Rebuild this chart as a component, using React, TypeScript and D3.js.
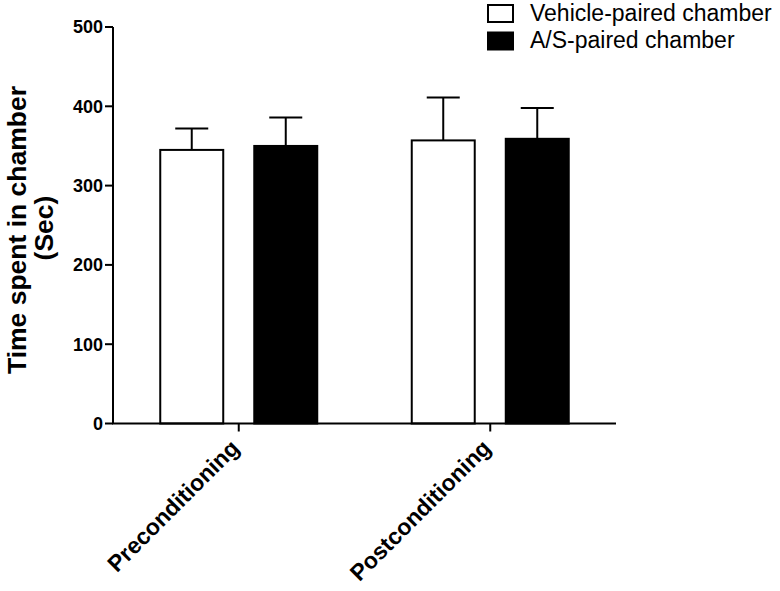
import React from "react";
import * as d3 from "d3";

const categories = ["Preconditioning", "Postconditioning"];
const series = ["Vehicle-paired chamber", "A/S-paired chamber"];
const seriesFill = ["#ffffff", "#000000"];
const meanValues = [
  [345, 350],
  [357, 359],
];
const errorValues = [
  [27, 36],
  [54, 39],
];
const yTicks = [0, 100, 200, 300, 400, 500];

const W = 780;
const H = 591;

export default function App() {
  const x0 = d3.scaleBand<string>().domain(categories).range([113, 616]).paddingInner(0).paddingOuter(0);
  const x1 = d3.scaleBand<string>().domain(series).range([-78.5, 78.5]).paddingInner(0.33).paddingOuter(0);
  const y = d3.scaleLinear().domain([0, 500]).range([423.5, 27]);
  const font = "'Liberation Sans', Arial, Helvetica, sans-serif";
  const capW = 33;

  return (
    <svg width={W} height={H} style={{ position: "absolute", left: 0, top: 0, background: "#fff" }} fontFamily={font}>
      {/* bars */}
      {categories.map((c, ci) => {
        const cx = (x0(c) as number) + x0.bandwidth() / 2;
        return (
          <g key={c}>
            {series.map((s, si) => {
              const bx = cx + (x1(s) as number);
              const bw = x1.bandwidth();
              const v = meanValues[ci][si];
              const e = errorValues[ci][si];
              const mid = bx + bw / 2;
              return (
                <g key={s}>
                  <line x1={mid} x2={mid} y1={y(v)} y2={y(v + e)} stroke="#000" strokeWidth={2} />
                  <line x1={mid - capW / 2} x2={mid + capW / 2} y1={y(v + e)} y2={y(v + e)} stroke="#000" strokeWidth={2} />
                  <rect x={bx} y={y(v)} width={bw} height={y(0) - y(v)} fill={seriesFill[si]} stroke="#000" strokeWidth={2} />
                </g>
              );
            })}
          </g>
        );
      })}

      {/* y axis */}
      <line x1={113} x2={113} y1={y(500)} y2={y(0)} stroke="#000" strokeWidth={2} />
      {yTicks.map((t) => (
        <g key={t}>
          <line x1={105} x2={113} y1={y(t)} y2={y(t)} stroke="#000" strokeWidth={2} />
          <text x={103} y={y(t)} dy="0.36em" textAnchor="end" fontSize={18} fontWeight="bold">
            {t}
          </text>
        </g>
      ))}

      {/* x axis */}
      <line x1={112} x2={616} y1={y(0)} y2={y(0)} stroke="#000" strokeWidth={2} />
      {categories.map((c) => {
        const cx = (x0(c) as number) + x0.bandwidth() / 2;
        return (
          <g key={c}>
            <line x1={cx} x2={cx} y1={y(0)} y2={y(0) + 8} stroke="#000" strokeWidth={2} />
            <text
              transform={`translate(${cx + 2},${y(0) + 26}) rotate(-45)`}
              textAnchor="end"
              fontSize={23}
              fontWeight="bold"
            >
              {c}
            </text>
          </g>
        );
      })}

      {/* y title */}
      <text transform="translate(25.5,230) rotate(-90)" textAnchor="middle" fontSize={26.5} fontWeight="bold">
        Time spent in chamber
      </text>
      <text transform="translate(52.5,228) rotate(-90)" textAnchor="middle" fontSize={26.5} fontWeight="bold">
        (Sec)
      </text>

      {/* legend */}
      {series.map((s, i) => (
        <g key={s}>
          <rect x={488} y={5 + i * 27.5} width={25} height={17} fill={seriesFill[i]} stroke="#000" strokeWidth={2} />
          <text x={530} y={20.5 + i * 27.5} fontSize={23}>
            {s}
          </text>
        </g>
      ))}
    </svg>
  );
}
